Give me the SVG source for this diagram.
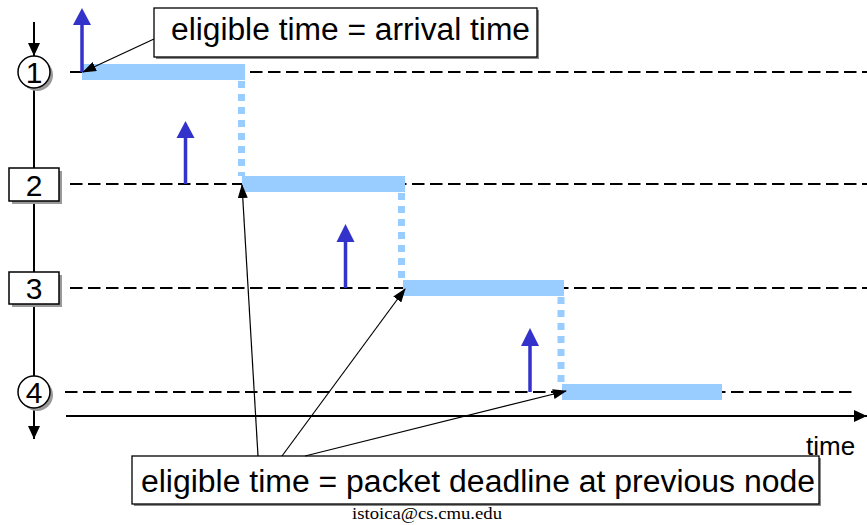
<svg xmlns="http://www.w3.org/2000/svg" width="867" height="525" viewBox="0 0 867 525">
<style>
.dash{stroke:#000;stroke-width:2;stroke-dasharray:12.5 5.5;fill:none}
.bar{stroke:#99ccff;stroke-width:16;fill:none}
.dot{stroke:#99ccff;stroke-width:7;stroke-dasharray:7 6;fill:none}
.blue{stroke:#3333cc;stroke-width:3.5;fill:none}
.bhead{fill:#3333cc}
.axis{stroke:#000;stroke-width:2;fill:none}
.conn{stroke:#000;stroke-width:1.2;fill:none;marker-end:url(#ah)}
.lbl{font-family:"Liberation Sans",Arial,sans-serif;fill:#000}
.shadow{fill:#999}
.nodebox{fill:#fff;stroke:#000;stroke-width:1.5}
</style>
<defs>
<marker id="ah" markerUnits="userSpaceOnUse" markerWidth="14" markerHeight="10" viewBox="0 0 14 10" refX="13" refY="5" orient="auto">
<path d="M0,0 L14,5 L0,10 Z" fill="#000"/>
</marker>
<marker id="axh" markerUnits="userSpaceOnUse" markerWidth="13" markerHeight="12" viewBox="0 0 13 12" refX="13" refY="6" orient="auto">
<path d="M0,0 L13,6 L0,12 Z" fill="#000"/>
</marker>
</defs>
<rect width="867" height="525" fill="#fff"/>

<g id="gridlines">
<line class="dash" x1="70" y1="72" x2="867" y2="72"/>
<line class="dash" x1="70" y1="184" x2="867" y2="184"/>
<line class="dash" x1="70" y1="288" x2="867" y2="288"/>
<line class="dash" x1="65" y1="392" x2="852" y2="392"/>
</g>

<g id="schedule">
<line class="bar" x1="82" y1="72" x2="245" y2="72"/>
<line class="dot" x1="241.5" y1="81" x2="241.5" y2="176"/>
<line class="bar" x1="242" y1="184" x2="405" y2="184"/>
<line class="dot" x1="401.5" y1="193" x2="401.5" y2="280"/>
<line class="bar" x1="403" y1="288" x2="564" y2="288"/>
<line class="dot" x1="561" y1="297" x2="561" y2="384"/>
<line class="bar" x1="562" y1="392" x2="722" y2="392"/>
</g>

<g id="arrivals">
<line class="blue" x1="82" y1="72" x2="82" y2="24"/>
<path class="bhead" d="M82,8 L91,25 L73,25 Z"/>
<line class="blue" x1="185.5" y1="184" x2="185.5" y2="137"/>
<path class="bhead" d="M185.5,121 L194.5,138 L176.5,138 Z"/>
<line class="blue" x1="345.5" y1="288" x2="345.5" y2="241"/>
<path class="bhead" d="M345.5,224 L354.5,242 L336.5,242 Z"/>
<line class="blue" x1="530" y1="392" x2="530" y2="345"/>
<path class="bhead" d="M530,328 L539,346 L521,346 Z"/>
</g>

<g id="axes">
<line class="axis" x1="34" y1="22" x2="34" y2="56" marker-end="url(#axh)"/>
<line class="axis" x1="34" y1="56" x2="34" y2="427"/>
<line class="axis" x1="34" y1="420" x2="34" y2="439" marker-end="url(#axh)"/>
<line class="axis" x1="66" y1="416" x2="867" y2="416" marker-end="url(#axh)"/>
<text class="lbl" x="806" y="455" font-size="26">time</text>
</g>

<g id="node1">
<circle class="shadow" cx="37" cy="75" r="16"/>
<circle class="nodebox" cx="34" cy="72" r="16"/>
<text class="lbl" x="34" y="83" font-size="30" text-anchor="middle">1</text>
</g>
<g id="node2">
<rect class="shadow" x="12" y="171" width="50" height="33"/>
<rect class="nodebox" x="9" y="168" width="50" height="33"/>
<text class="lbl" x="34" y="196" font-size="30" text-anchor="middle">2</text>
</g>
<g id="node3">
<rect class="shadow" x="12" y="275" width="50" height="32"/>
<rect class="nodebox" x="9" y="272" width="50" height="32"/>
<text class="lbl" x="34" y="299" font-size="30" text-anchor="middle">3</text>
</g>
<g id="node4">
<circle class="shadow" cx="37" cy="395" r="16"/>
<circle class="nodebox" cx="34" cy="392" r="16"/>
<text class="lbl" x="34" y="403" font-size="30" text-anchor="middle">4</text>
</g>

<g id="callout-arrival">
<rect x="156" y="10" width="383" height="49" fill="#888"/>
<rect x="154" y="8" width="383" height="49" fill="#fff" stroke="#000" stroke-width="1.3"/>
<text class="lbl" x="171" y="40" font-size="31" textLength="359" lengthAdjust="spacingAndGlyphs">eligible time = arrival time</text>
</g>

<g id="callout-deadline">
<rect x="134" y="458" width="687" height="48" fill="#888"/>
<rect x="132" y="456" width="687" height="48" fill="#fff" stroke="#000" stroke-width="1.3"/>
<text class="lbl" x="141" y="492" font-size="31" textLength="674" lengthAdjust="spacingAndGlyphs">eligible time = packet deadline at previous node</text>
</g>

<g id="connectors">
<line class="conn" x1="154" y1="39" x2="83" y2="72"/>
<line class="conn" x1="258" y1="456" x2="242" y2="185"/>
<line class="conn" x1="282" y1="456" x2="405" y2="289"/>
<line class="conn" x1="305" y1="456" x2="566" y2="391"/>
</g>

<text x="427" y="519" font-family="'Liberation Serif','Times New Roman',serif" font-size="16" text-anchor="middle" textLength="150" lengthAdjust="spacingAndGlyphs">istoica@cs.cmu.edu</text>
</svg>
